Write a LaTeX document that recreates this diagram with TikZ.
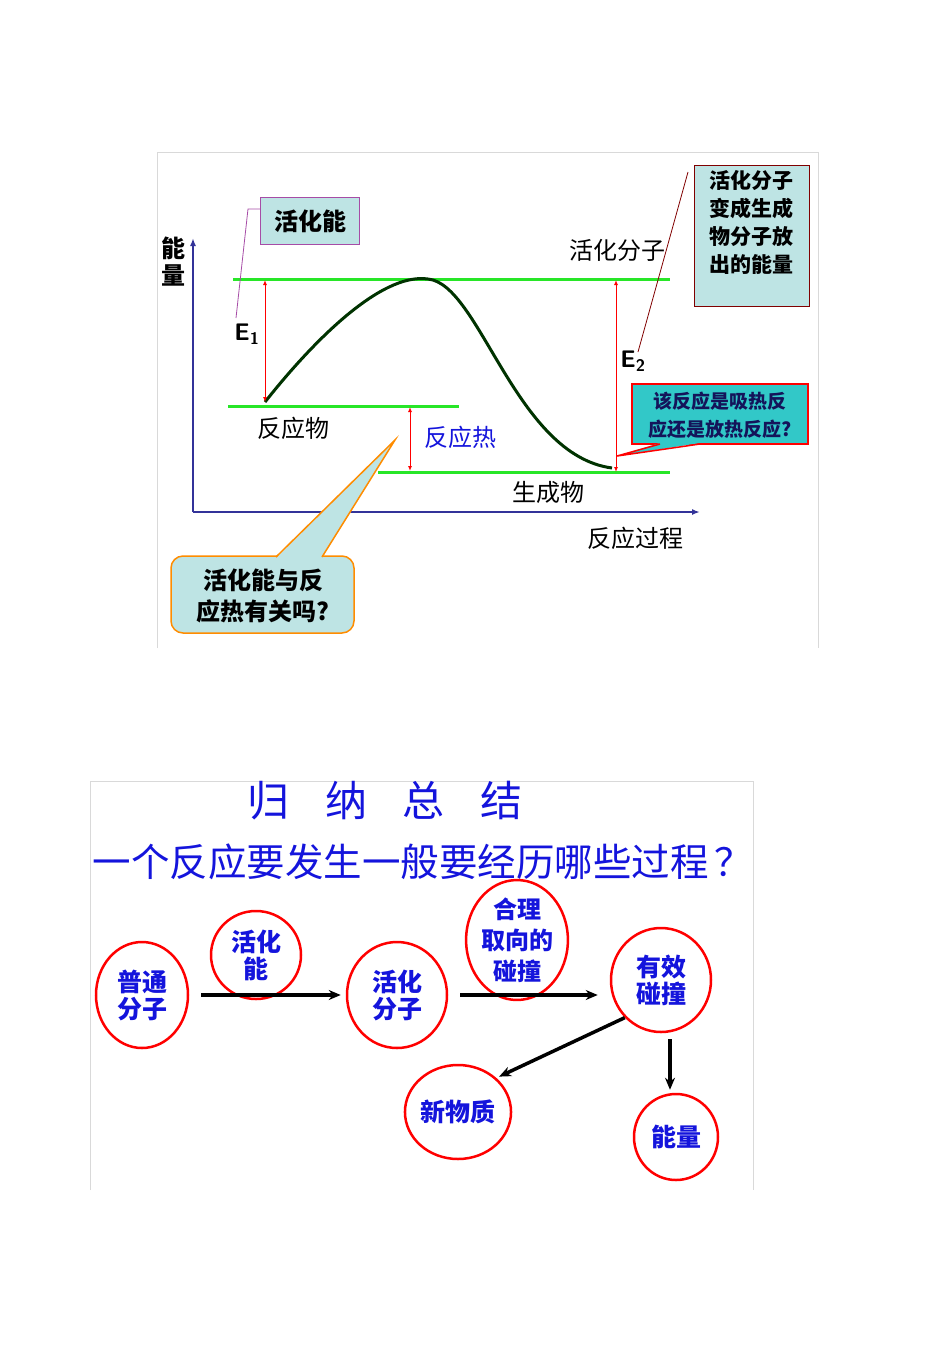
\documentclass[tikz,border=0pt]{standalone}
\usepackage{fontspec}
\setmainfont{Noto Sans CJK SC}
\usetikzlibrary{arrows.meta,shapes.geometric}
\definecolor{axisc}{RGB}{51,51,153}
\definecolor{grn}{RGB}{40,230,40}
\definecolor{lcyan}{RGB}{190,228,228}
\definecolor{teal2}{RGB}{50,200,200}
\definecolor{txtb}{RGB}{20,20,220}
\definecolor{navy}{RGB}{20,20,90}
\tikzset{
  lvl/.style={grn,line width=3pt},
  rarr/.style={red,line width=1pt,{Latex[length=5pt,width=4pt]}-{Latex[length=5pt,width=4pt]}},
  lbl/.style={font=\fontsize{24}{26}\selectfont,inner sep=0pt},
  circ/.style={ellipse,draw=red,line width=2.5pt,text=txtb,font=\bfseries\fontsize{25}{27}\selectfont,align=center,inner sep=0pt},
  flow/.style={line width=3.5pt,-{Stealth[length=12pt,width=10pt]}}
}
\begin{document}
\begin{tikzpicture}[x=1pt,y=-1pt]
\useasboundingbox (0,0) rectangle (950,1345);
% top frame
\draw[gray!30] (157,648) -- (157,152) -- (818,152) -- (818,648);
% axes
\draw[axisc,line width=2.5pt,-{Latex[length=8pt,width=6pt]}] (193,512) -- (193,238);
\draw[axisc,line width=2.5pt,-{Latex[length=8pt,width=6pt]}] (193,512) -- (700,512);
\node[lbl,align=center,font=\bfseries\fontsize{24}{27}\selectfont] (yl) at (173,262) {能\\量};
\node[lbl] (xl) at (635,538) {反应过程};
% levels
\coordinate (t1) at (233,279); \coordinate (t2) at (670,279);
\coordinate (r1) at (228,406); \coordinate (r2) at (459,406);
\coordinate (p1) at (378,472); \coordinate (p2) at (670,472);
\draw[lvl] (t1) -- (t2);
\draw[lvl] (r1) -- (r2);
\draw[lvl] (p1) -- (p2);
% curve
\coordinate (c0) at (265,402); \coordinate (cp) at (428,279); \coordinate (c1) at (612,468);
\draw[line width=3pt,black!80!green] (c0) .. controls (310,345) and (380,272) .. (cp) .. controls (480,284) and (515,455) .. (c1);
% arrows
\coordinate (e1a) at (265,402); \coordinate (e1b) at (265,280);
\coordinate (e2a) at (616,472); \coordinate (e2b) at (616,280);
\coordinate (ha) at (410,407); \coordinate (hb) at (410,471);
\draw[rarr] (e1a) -- (e1b);
\draw[rarr] (e2a) -- (e2b);
\draw[rarr] (ha) -- (hb);
\node[font=\sffamily\bfseries\fontsize{24}{26}\selectfont,inner sep=0pt] (E1) at (247,334) {E\textsubscript{1}};
\node[font=\sffamily\bfseries\fontsize{24}{26}\selectfont,inner sep=0pt] (E2) at (633,361) {E\textsubscript{2}};
\node[lbl] (act) at (617,250) {活化分子};
\node[lbl] (reac) at (293,428) {反应物};
\node[lbl,text=txtb] (heat) at (460,437) {反应热};
\node[lbl] (prod) at (548,492) {生成物};
% activation energy box
\node[draw=violet!70,line width=1pt,fill=lcyan,minimum width=99,minimum height=47,lbl,font=\bfseries\fontsize{24}{26}\selectfont] (ea) at (310,221) {活化能};
\coordinate (eal) at (236,318);
\draw[violet!70,line width=0.8pt] (ea.west|-0,209) -- (248,209) -- (eal);
% right box
\node[draw=red!50!black,line width=1pt,fill=lcyan,minimum width=115,minimum height=141,anchor=north west,inner sep=0pt] (rb) at (694,165) {};
\node[lbl,align=center,font=\bfseries\fontsize{21}{28}\selectfont,anchor=north] (rbt) at (751,170) {活化分子\\变成生成\\物分子放\\出的能量};
\coordinate (rbl) at (638,352);
\draw[red!50!black,line width=0.8pt] (688,172) -- (rbl);
% teal callout
\fill[teal2,draw=red,line width=2pt] (632,384) rectangle (808,444);
\fill[teal2] (660,443) -- (617,456) -- (700,443) -- cycle;
\draw[red,line width=1.5pt] (660,444) -- (617,456) -- (700,444);
\node[inner sep=0pt,align=center,text=navy,font=\bfseries\fontsize{19}{28}\selectfont] (q1) at (720,415) {该反应是吸热反\\应还是放热反应?};
% orange callout
\draw[orange!90!yellow,line width=1.5pt,fill=lcyan,rounded corners=12] (171,556) rectangle (354,633);
\fill[lcyan] (276,558) -- (395,440) -- (322,558) -- cycle;
\draw[orange!90!yellow,line width=1.5pt] (276,557) -- (395,440) -- (322,557);
\node[inner sep=0pt,align=center,font=\bfseries\fontsize{24}{31}\selectfont] (q2) at (263,596) {活化能与反\\应热有关吗?};
% bottom frame
\draw[gray!30] (90,1190) -- (90,781) -- (753,781) -- (753,1190);
\node[text=txtb,font=\fontsize{42}{44}\selectfont,inner sep=0pt] (ttl) at (385,801) {归\hspace{0.85em}纳\hspace{0.85em}总\hspace{0.85em}结};
\node[text=txtb,font=\fontsize{38.5}{40}\selectfont,inner sep=0pt] (qq) at (423,862) {一个反应要发生一般要经历哪些过程\hspace{0.15em}？};
% circles
\node[circ,minimum width=92,minimum height=106] (n1) at (142,995) {普通\\分子};
\node[circ,minimum width=90,minimum height=88] (n2) at (256,955) {活化\\能};
\node[circ,minimum width=100,minimum height=106] (n3) at (397,995) {活化\\分子};
\node[circ,minimum width=92,minimum height=102,font=\bfseries\fontsize{24}{31}\selectfont] (n4) at (517,940) {合理\\取向的\\碰撞};
\node[circ,minimum width=100,minimum height=104] (n5) at (661,980) {有效\\碰撞};
\node[circ,minimum width=104,minimum height=94] (n6) at (458,1112) {新物质};
\node[circ,minimum width=84,minimum height=86] (n7) at (676,1137) {能量};
\draw[flow,shorten <=12pt,shorten >=5pt] (n1.east) -- (n3.west);
\draw[flow,shorten <=12pt,shorten >=12pt] (n3.east) -- (n5.west|-n3.east);
\draw[flow,shorten <=0pt,shorten >=3pt] (n5.south west) -- (n6.north east);
\draw[flow,shorten <=6pt,shorten >=3pt] (n5.south-|670,0) -- (n7.north-|670,0);
\end{tikzpicture}
\end{document}
